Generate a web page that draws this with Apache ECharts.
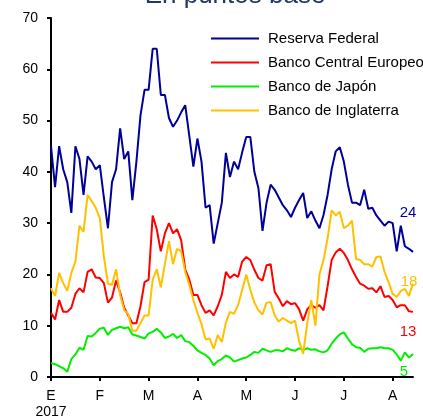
<!DOCTYPE html>
<html>
<head>
<meta charset="utf-8">
<script src="https://cdn.jsdelivr.net/npm/echarts@6/dist/echarts.min.js"></script>
<style>
html,body{margin:0;padding:0;background:#fff;}
#c{width:423px;height:419px;}
</style>
</head>
<body>
<div id="c"></div>
<script>
// Month tick labels (Spanish initials) and year
const monthLabels = ['E','F','M','A','M','J','J','A'];
const yearLabel = '2017';
const pointsPerMonth = 12;

// Series values (basis points), 12 samples per month, Jan 2 .. mid-Aug 2017
const fed = [45,37,45,40.5,38,32,45,42.5,35.5,43,
  42,40.5,41.3,35,29,38,40.5,48.5,42.5,44,
  34.5,42,51,56,56,64,64,55,55,50.5,
  48.8,50,51.6,53,47,41,46.5,42,33,33.5,
  26,30,34,43.7,39,42,40.5,43.8,46.8,46.8,
  40,36.8,28.5,34,37.5,36.5,35,33.5,32.5,31.2,
  33,34.5,35.9,31,32.3,30.5,29,31.6,35.5,40.5,
  44,44.8,42,37.5,34,34,33.5,36.5,32.8,33,
  31.5,30.5,29.5,30.3,30,24.5,29.5,25.5,25,24.4];
const ecb = [12.5,11.2,15,12.7,12.7,13.5,16.2,17.3,16.5,20.5,
  21,19.4,19.3,18.3,14.5,15.5,18.8,16.5,13.5,12,
  10.5,10.5,13.8,18.5,19,31.5,28.8,24.5,28,30,
  28,28.8,26.7,21,19,16,16,14,12.5,13,
  12,13.8,16,20.5,19.3,20,19.5,22.5,23.4,22.8,
  20.9,19.3,18.8,21.8,22,16.6,15.3,13.8,14.8,14.2,
  14.4,13.2,11,13.2,14,13.5,14,13,17.7,22.8,
  24.3,25,24.2,22.8,21,19.5,18.2,17.8,17.2,17.3,
  16.5,17.7,15.6,15.8,15,13.6,14,14,12.8,12.7];
const boj = [2.7,2.5,2.1,1.7,1.0,3.5,4.4,5.7,5.3,8.0,
  7.9,8.6,9.4,9.6,8.2,9.2,9.5,9.8,9.5,9.7,
  8.3,8.1,7.8,7.5,8.5,8.8,9.4,8.7,7.6,7.9,
  8.4,7.6,8.2,7.0,6.8,6.1,5.2,4.7,4.3,3.6,
  2.3,3.1,3.5,4.2,3.8,3.0,3.3,3.6,3.8,4.3,
  4.9,4.7,5.5,5.2,4.9,5.2,5.2,5.0,5.6,5.3,
  5.1,5.6,5.3,5.6,5.3,5.4,5.0,4.8,5.2,6.5,
  7.5,8.3,8.7,7.5,6.4,5.8,5.7,4.9,5.5,5.6,
  5.6,5.8,5.6,5.6,5.3,4.4,3.2,4.8,3.8,4.5];
const boe = [17.3,15.8,20.3,18.3,16.8,20.3,22.5,29.5,28.3,35.5,
  34.3,33,31,23.5,18.2,18,21,16,13,12.3,
  9,9,10.5,12,12,19,21,17.5,22,26.5,
  22,25,24.5,20.5,18,15,12.5,10.3,7.3,7.5,
  5.5,8.2,6.8,10.6,12.7,12.3,14,17,20,17,
  14.5,13,12.2,14.5,14.6,12,10.8,11.5,11,10.5,
  11,7,4.5,10.5,15,10,20,22.8,27,32.5,
  31.5,32.2,29,29.5,30.5,23,22.8,22,22,21.5,
  23.4,23.5,20.5,18.5,16.2,15.6,16.8,17.2,15.8,18.2];

const seriesNames = ['Reserva Federal','Banco Central Europeo','Banco de Japón','Banco de Inglaterra'];
const seriesColors = ['#000099','#FF0000','#00EE00','#FFC000'];

// Category grid (approximate dates)
const daysIn = [31,28,31,30,31,30,31,31];
const categories = [];
for (let i = 0; i < fed.length; i++) {
  const m = Math.floor(i / pointsPerMonth), k = i % pointsPerMonth;
  const d = 1 + Math.floor(k * daysIn[m] / pointsPerMonth);
  categories.push('2017-' + String(m + 1).padStart(2, '0') + '-' + String(d).padStart(2, '0'));
}

const FONT = '"Liberation Sans", Arial, sans-serif';
const chart = echarts.init(document.getElementById('c'), null, {renderer: 'canvas'});

function mkSeries(name, data, color, offset) {
  const last = data.length - 1;
  return {
    name: name, type: 'line', data: data, symbol: 'none', animation: false,
    lineStyle: {width: 2, color: color}, itemStyle: {color: color},
    markPoint: {
      symbol: 'circle', symbolSize: 0, animation: false,
      data: [{coord: [last, data[last]], value: Math.round(data[last])}],
      label: {show: true, position: 'inside', offset: offset, color: color,
        fontSize: 15, fontFamily: FONT, formatter: p => String(p.value)}
    }
  };
}

chart.setOption({
  backgroundColor: '#fff',
  animation: false,
  graphic: [{
    type: 'text', z: 10,
    style: {text: 'En puntos base', x: 235, y: 9, fill: '#203864', font: '26px ' + FONT,
      textAlign: 'center', textVerticalAlign: 'bottom'}
  }],
  grid: {left: 51, right: 10, top: 18, bottom: 42, containLabel: false, outerBoundsMode: 'none'},
  legend: {
    orient: 'vertical', left: 205, top: 26,
    itemWidth: 48, itemHeight: 14, itemGap: 9,
    itemStyle: {opacity: 0},
    textStyle: {fontSize: 15, color: '#000', fontFamily: FONT, padding: [0, 0, 0, 4]},
    data: seriesNames
  },
  xAxis: {
    type: 'category', data: categories, boundaryGap: false,
    axisLine: {lineStyle: {color: '#000', width: 2}},
    axisTick: {length: 4, lineStyle: {color: '#000', width: 2},
      interval: (idx) => idx % pointsPerMonth === 0},
    axisLabel: {
      interval: (idx) => idx % pointsPerMonth === 0,
      color: '#000', fontSize: 14, fontFamily: FONT, margin: 11, lineHeight: 16,
      formatter: (v, idx) => {
        const m = Math.floor(idx / pointsPerMonth);
        return m === 0 ? monthLabels[m] + '\n' + yearLabel : monthLabels[m];
      }
    },
    splitLine: {show: false}
  },
  yAxis: {
    type: 'value', min: 0, max: 70, interval: 10,
    axisLine: {show: true, lineStyle: {color: '#000', width: 2}},
    axisTick: {show: true, length: 4, lineStyle: {color: '#000', width: 2}},
    axisLabel: {color: '#000', fontSize: 14, fontFamily: FONT, margin: 13},
    splitLine: {show: false}
  },
  series: [
    mkSeries(seriesNames[0], fed, seriesColors[0], [-5, -39]),
    mkSeries(seriesNames[1], ecb, seriesColors[1], [-5, 20]),
    mkSeries(seriesNames[2], boj, seriesColors[2], [-9, 18]),
    mkSeries(seriesNames[3], boe, seriesColors[3], [-4, -2])
  ]
});
</script>
</body>
</html>
